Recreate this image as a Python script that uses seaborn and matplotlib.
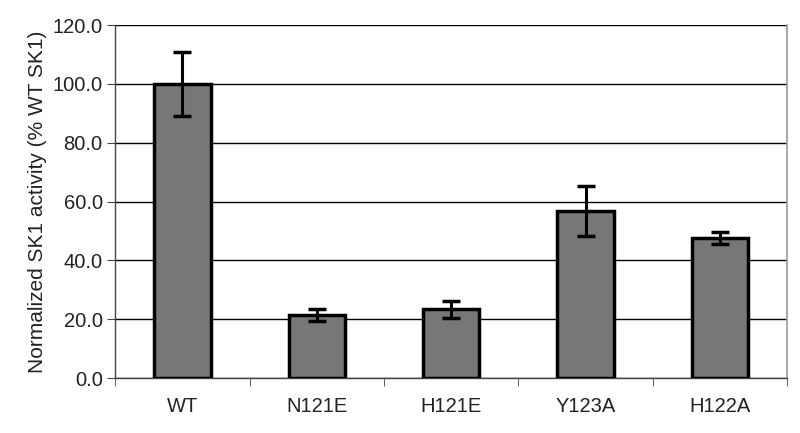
import matplotlib
matplotlib.use("Agg")
import matplotlib.pyplot as plt
import seaborn as sns
import numpy as np

# values
mutants = ["WT", "N121E", "H121E", "Y123A", "H122A"]
activity = [100.0, 21.4, 23.3, 56.9, 47.7]
errors = [11.0, 2.0, 3.0, 8.5, 2.0]
yticks = [0, 20, 40, 60, 80, 100, 120]

sns.set_style("white")
plt.rcParams["font.family"] = ["Liberation Sans", "DejaVu Sans"]

fig = plt.figure(figsize=(8, 4.33), dpi=100)
ax = fig.add_axes([0.144, 0.127, 0.84, 0.815])

sns.barplot(x=mutants, y=activity, color="#777777", edgecolor="black",
            linewidth=2.5, width=0.42, saturation=1, ax=ax, zorder=3)
ax.errorbar(np.arange(len(mutants)), activity, yerr=errors, fmt="none",
            ecolor="black", elinewidth=2.2, capsize=6.5, capthick=2.5, zorder=4)

ax.set_ylim(0, 120)
ax.set_xlim(-0.5, len(mutants) - 0.5)
ax.set_yticks(yticks)
ax.set_yticklabels([f"{v:.1f}" for v in yticks], fontsize=14.5, color="#222222")
ax.yaxis.grid(True, color="black", linewidth=1)
ax.set_axisbelow(True)

ax.tick_params(axis="x", length=0, labelsize=14.5, pad=14, colors="#222222")
ax.set_xticks(np.arange(-0.5, len(mutants)), minor=True)
ax.tick_params(axis="x", which="minor", length=6, direction="out",
               color="#444444", bottom=True)
ax.tick_params(axis="y", length=6, direction="out", color="#444444", left=True,
               pad=3)

ax.set_ylabel("Normalized SK1 activity (% WT SK1)", fontsize=15,
              color="#222222", labelpad=4)
ax.set_xlabel("")

for side in ["left", "bottom"]:
    ax.spines[side].set_color("#444444")
    ax.spines[side].set_linewidth(1)
ax.spines["top"].set_visible(False)
ax.spines["right"].set_color("#999999")
ax.spines["right"].set_linewidth(1.2)

fig.savefig("out.png", dpi=100)
